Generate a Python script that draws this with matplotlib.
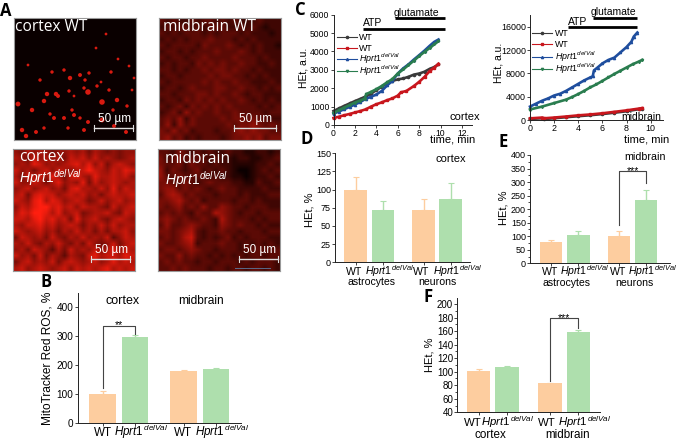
import matplotlib
matplotlib.use('Agg')
import matplotlib.pyplot as plt
import numpy as np
from matplotlib.colors import LinearSegmentedColormap
from matplotlib.lines import Line2D

plt.rcParams['font.family'] = ['Liberation Sans', 'DejaVu Sans']
plt.rcParams['mathtext.fontset'] = 'custom'
plt.rcParams['mathtext.rm'] = 'Liberation Sans'
plt.rcParams['mathtext.it'] = 'Liberation Sans:italic'
plt.rcParams['mathtext.bf'] = 'Liberation Sans:bold'

W, H = 677, 443
ORANGE = '#fdcd9f'
GREEN = '#aedfad'
HPRT = r'$\mathit{Hprt1}^{\mathit{delVal}}$'
HPRT_BAR = r'$\mathit{Hprt}$1$^{\,\mathit{delVal}}$'

# panel C, cortex
c1_wt1_t = [0, 0.5, 1, 1.5, 2, 2.5, 3, 3.5, 4, 4.5, 5, 5.5, 6, 6.5, 7, 7.5, 8, 8.5, 9, 9.4, 9.8]
c1_wt1 = [760, 900, 1040, 1170, 1300, 1420, 1550, 1700, 1900, 2080, 2270, 2400, 2480, 2530, 2620, 2740, 2800, 2900, 3060, 3150, 3300]
c1_wt2_t = [0, 0.5, 1, 1.5, 2, 2.5, 3, 3.5, 4, 4.5, 5, 5.5, 6, 6.3, 6.8, 7.5, 8, 8.5, 9, 9.4, 9.8]
c1_wt2 = [380, 450, 530, 600, 680, 760, 850, 1000, 1130, 1230, 1350, 1450, 1600, 1780, 1850, 2120, 2350, 2620, 2950, 3120, 3330]
c1_ko1_t = [0, 0.5, 1, 1.5, 2, 2.5, 3, 3.5, 4, 4.5, 5, 5.5, 6, 6.5, 7, 7.5, 8, 8.5, 9, 9.4, 9.8]
c1_ko1 = [620, 730, 860, 980, 1110, 1250, 1420, 1530, 1660, 1850, 2150, 2400, 2800, 3080, 3300, 3560, 3800, 4050, 4320, 4520, 4650]
c1_ko2_t = [0, 0.5, 1, 1.5, 2, 2.5, 2.9, 3.05, 3.5, 4, 4.5, 5, 5.5, 6, 6.5, 7, 7.5, 8, 8.5, 9, 9.4, 9.8]
c1_ko2 = [650, 800, 950, 1080, 1220, 1330, 1430, 1680, 1800, 1950, 2120, 2320, 2500, 2800, 3020, 3260, 3500, 3750, 3980, 4200, 4380, 4560]

# panel C, midbrain
c2_wt1_t = [0, 1, 1.2, 2, 3, 4, 5, 6, 7, 8, 9, 9.3]
c2_wt1 = [180, 300, 180, 300, 480, 650, 820, 1020, 1250, 1500, 1850, 1950]
c2_wt2_t = [0, 1, 1.2, 2, 3, 4, 5, 6, 7, 8, 9, 9.3]
c2_wt2 = [280, 420, 300, 420, 600, 800, 950, 1150, 1400, 1650, 1950, 2050]
c2_ko1_t = [0, 0.5, 1, 1.5, 2, 2.5, 3, 3.5, 4, 4.5, 5, 5.2, 5.3, 5.6, 6, 6.5, 7, 7.5, 8, 8.4, 8.6, 8.9]
c2_ko1 = [2300, 2800, 3300, 3700, 4200, 4500, 5000, 5600, 6200, 6800, 7300, 7500, 8500, 9000, 9700, 10300, 10700, 11600, 12500, 13400, 14300, 15000]
c2_ko2_t = [0, 1, 2, 3, 3.5, 4, 4.5, 5, 5.5, 6, 6.5, 7, 7.5, 8, 8.5, 9, 9.3]
c2_ko2 = [1800, 2300, 2900, 3500, 3950, 4450, 5000, 5600, 6100, 6700, 7300, 7900, 8450, 9000, 9550, 10000, 10300]

# bar panels: means, upper error ends
b_means = [101, 298, 181, 187]
b_tops = [110, 303, 183, 189]
d_means = [100, 72, 72.5, 87]
d_tops = [118, 84, 87, 109]
e_means = [78, 103, 102, 232]
e_tops = [85, 118, 121, 272]
f_means = [101, 107, 83, 159]
f_tops = [104, 108, 84, 161]

midbrain_wt = ["32322323323232223222", "23233232333223232122", "32323332323332322212",
               "23232333433323232222", "32333324333432323221", "23323233343334323222",
               "32332334333343332322", "23233243434334332232", "33232334344343323222",
               "23323333434433232322", "32333334343343322232", "23323433344334332323",
               "33233344343343233222", "23324343434334323232", "32342434343433332323",
               "23425343343343333233", "34352433334344343322", "35253433333434454343",
               "43534233323345454433", "45342323332344545344"]
cortex_ko = ["54656545565646545455", "65475656476757565456", "56587565678685746765",
             "75646757656797657687", "64767586478658667675", "75576468565847567656",
             "56756756478665758576", "67478775676756467667", "76589687567645756756",
             "57689978675766547567", "68799868567456675476", "77689786748567546765",
             "65778675676465757566", "76567564657564646675", "47656475465756573576",
             "65754657546475457467", "56476536475657568576", "75647465365478677687",
             "46756574676567568676", "67567656757676786767"]
midbrain_ko = ["33243232322322112212", "42343333232212211223", "43342433232211112232",
               "52432342323210012323", "53343333232211012232", "44334323433322113223",
               "45534343234332222322", "35653433323332322233", "44564342333323323222",
               "43453435335433233322", "34343243365432332333", "45434334326433323233",
               "35334543325434332322", "44345632334332333233", "34346732323423233322",
               "43345623334332323232", "34434543323332333333", "43353433232323233233",
               "34343323323332323332", "33434333233233233232"]
# bright spots in the cortex WT field (x, y, size), image pixels
spots_x = [14, 38, 50, 56, 66, 75, 71, 83, 87, 97, 104, 115, 26, 33, 42, 44, 55, 60, 70, 74, 95, 103, 113, 120,
           4, 18, 30, 36, 50, 60, 66, 74, 88, 99, 8, 12, 22, 40, 54, 70, 88, 100, 112, 30, 58, 82, 92, 118]
spots_y = [47, 54, 52, 60, 57, 55, 62, 68, 64, 54, 41, 48, 62, 76, 76, 78, 73, 78, 70, 74, 72, 82, 88, 60,
           86, 92, 83, 96, 100, 97, 100, 104, 84, 92, 112, 118, 114, 100, 110, 112, 102, 108, 114, 110, 92, 30, 16, 72]
spots_s = [4, 6, 6, 10, 8, 6, 6, 6, 4, 6, 4, 4, 6, 10, 10, 8, 6, 4, 6, 16, 6, 10, 6, 4,
           12, 10, 10, 6, 8, 8, 6, 8, 16, 6, 10, 10, 8, 8, 6, 8, 12, 8, 8, 6, 6, 4, 4, 4]

fig = plt.figure(figsize=(W / 100, H / 100), dpi=100)


def px_axes(left, top, right, bottom):
    return fig.add_axes([left / W, 1 - bottom / H, (right - left) / W, (bottom - top) / H])


def fig_text(x, y, s, **kw):
    return fig.text(x / W, 1 - y / H, s, **kw)


def style_axes(ax):
    for side in ['top', 'right']:
        ax.spines[side].set_visible(False)
    for side in ['left', 'bottom']:
        ax.spines[side].set_linewidth(0.7)
        ax.spines[side].set_color('#222222')
    ax.tick_params(length=2, width=0.6, labelsize=6, pad=1, color='#222222')


red_map = LinearSegmentedColormap.from_list('mito', [(0.04, 0, 0), (1, 0.12, 0.06)])


def micrograph(left, top, grid, title, title_x, title_y, ko_y, bar, label_y=101):
    ax = px_axes(left, top, left + 122, top + 122)
    if grid is None:
        ax.imshow(np.zeros((2, 2)), cmap=red_map, vmin=0, vmax=9, extent=(0, 122, 122, 0))
        ax.scatter(spots_x, spots_y, s=spots_s, color='#d81a10', linewidths=0)
    else:
        arr = np.array([[int(c) for c in row] for row in grid])
        ax.imshow(arr, cmap=red_map, vmin=0, vmax=9, interpolation='bilinear', extent=(0, 122, 122, 0))
    ax.set_xlim(0, 122)
    ax.set_ylim(122, 0)
    ax.set_xticks([])
    ax.set_yticks([])
    for s in ax.spines.values():
        s.set_color('#999999')
        s.set_linewidth(0.8)
    ax.text(title_x, title_y, title, color='white', fontsize=11.2, family='Open Sans', va='center')
    if ko_y:
        ax.text(title_x, ko_y, HPRT, color='white', fontsize=10, va='center')
    ax.plot(bar, [110, 110], color='#dddddd', lw=1, clip_on=False)
    ax.plot([bar[0], bar[0]], [107, 113], color='#dddddd', lw=0.8)
    ax.plot([bar[1], bar[1]], [107, 113], color='#dddddd', lw=0.8)
    ax.text(sum(bar) / 2 + 1, label_y, '50 µm', color='white', fontsize=8.5, ha='center', va='center')
    return ax


micrograph(14, 18, None, 'cortex WT', 1, 8.7, None, (80, 119))
micrograph(159, 18, midbrain_wt, 'midbrain WT', 4, 8.7, None, (75, 117))
micrograph(13, 149, cortex_ko, 'cortex', 6, 7.7, 29, (78, 117), label_y=101)
ax_mk = micrograph(158, 149, midbrain_ko, 'midbrain', 7, 10, 31, (81, 120), label_y=101)
ax_mk.plot([77, 112], [118.5, 118.5], color='#5a6a8a', lw=0.7)


def bar_panel(box, xlim, ylim, yticks, means, tops, shifts, tick_size, lab_size, baseline, minor=None, width=0.83):
    ax = px_axes(*box)
    style_axes(ax)
    xpos = [0, 1, 2.5, 3.5]
    cols = [ORANGE, GREEN, ORANGE, GREEN]
    ax.bar(xpos, means, width=width, color=cols, bottom=0)
    for x, m, t, c in zip(xpos, means, tops, cols):
        ax.errorbar(x, m, yerr=[[0], [t - m]], color=c, capsize=2, lw=1, capthick=0.8)
    ax.set_xlim(*xlim)
    ax.set_ylim(*ylim)
    ax.set_yticks(yticks)
    ax.tick_params(axis='y', labelsize=tick_size)
    if minor is not None:
        ax.set_yticks(minor, minor=True)
        ax.tick_params(axis='y', which='minor', length=1.2, width=0.5)
    ax.set_xticks(xpos)
    ax.set_xticklabels([])
    # labels sit on one baseline, the superscript would shift a plain tick label
    for x, lab, dx in zip(xpos, ['WT', HPRT_BAR, 'WT', HPRT_BAR], shifts):
        ax.annotate(lab, xy=(x, 0), xycoords=('data', 'axes fraction'), xytext=(dx, -baseline),
                    textcoords='offset pixels', fontsize=lab_size, ha='center', va='baseline',
                    annotation_clip=False)
    return ax


def bracket(ax, x0, x1, y_left, y_top, y_right, stars):
    ax.plot([x0, x0, x1, x1], [y_left, y_top, y_top, y_right], color='#444444', lw=0.8, clip_on=False)
    ax.annotate(stars, xy=((x0 + x1) / 2, y_top), xytext=(0, -2.5), textcoords='offset pixels',
                fontsize=7.5, ha='center', va='baseline', annotation_clip=False)


# B
ax_b = bar_panel((77.7, 293.3, 240.7, 423.3), (-0.774, 4.27), (0, 448), [0, 100, 200, 300, 400], b_means, b_tops,
                 [0, 6.5, 0, 6.5], 7.2, 8.4, 13, width=0.82)
bracket(ax_b, 0, 1, 122, 337, 307, '**')
fig_text(47.7, 358, 'MitoTracker Red ROS, %', rotation=90, fontsize=8.6, ha='center', va='center')
fig_text(123, 300.7, 'cortex', fontsize=9, ha='center', va='center')
fig_text(201, 300.7, 'midbrain', fontsize=8.6, ha='center', va='center')

# D
ax_d = bar_panel((335, 153.3, 470, 262.3), (-0.764, 4.21), (0, 150), [0, 25, 50, 75, 100, 125, 150], d_means, d_tops,
                 [-2, 6.5, -2, 6.5], 6.5, 7.6, 12.7)
fig_text(309, 210, 'HEt, %', rotation=90, fontsize=8, ha='center', va='center')
fig_text(371.3, 282, 'astrocytes', fontsize=7.6, ha='center', va='center')
fig_text(437.7, 282, 'neurons', fontsize=7.6, ha='center', va='center')
fig_text(451, 159, 'cortex', fontsize=8, ha='center', va='center')

# E
ax_e = bar_panel((530, 155, 670, 263.3), (-0.78, 4.38), (0, 400), np.arange(0, 401, 50), e_means, e_tops,
                 [-1, 6.5, -1, 6.5], 6.5, 7.6, 11.7, minor=np.arange(0, 401, 25))
bracket(ax_e, 2.5, 3.5, 141, 340, 295, '***')
fig_text(504, 208, 'HEt, %', rotation=90, fontsize=8, ha='center', va='center')
fig_text(566.7, 282.7, 'astrocytes', fontsize=7.6, ha='center', va='center')
fig_text(634, 282.7, 'neurons', fontsize=7.6, ha='center', va='center')
fig_text(624, 157, 'midbrain', fontsize=7.7, ha='left', va='center')

# F
ax_f = bar_panel((457.3, 297.7, 600, 412.3), (-0.75, 4.26), (40, 209.5), np.arange(40, 201, 20), f_means, f_tops,
                 [-6, 0.5, -3, 6], 7, 8.2, 13.4, minor=np.arange(40, 201, 10))
bracket(ax_f, 2.5, 3.5, 87, 179, 165, '***')
fig_text(429, 355, 'HEt, %', rotation=90, fontsize=8, ha='center', va='center')
fig_text(490, 435.5, 'cortex', fontsize=8.4, ha='center', va='center')
fig_text(568, 435.5, 'midbrain', fontsize=8.4, ha='center', va='center')


TRACE_COLS = ['#3a3a3a', '#c8161d', '#1f4e9e', '#2a7d4f']
TRACE_MARKS = ['o', 's', '^', 'v']
TRACE_LABELS = ['WT', 'WT', HPRT, HPRT]


def trace_panel(box, xlim, ylim, xticks, yticks, traces, tick_size):
    ax = px_axes(*box)
    style_axes(ax)
    ax.tick_params(labelsize=tick_size)
    for (tx, ty), c, mk in zip(traces, TRACE_COLS, TRACE_MARKS):
        ax.plot(tx, ty, color=c, lw=1.9, marker=mk, ms=1.6, solid_joinstyle='round', clip_on=False)
    ax.set_xlim(*xlim)
    ax.set_ylim(*ylim)
    ax.set_xticks(xticks)
    ax.set_yticks(yticks)
    return ax


def legend_rows(x0, x1, text_x, rows):
    # the superscript makes a legend's rows uneven, so the key is placed by row
    for y, c, mk, lab in zip(rows, TRACE_COLS, TRACE_MARKS, TRACE_LABELS):
        fig.add_artist(Line2D([x0 / W, (x0 + x1) / 2 / W, x1 / W], [1 - y / H] * 3, color=c, lw=0.8,
                              marker=mk, ms=1.6, markevery=[1]))
        fig_text(text_x, y + 3, lab, fontsize=6.4, va='baseline')


ax_c1 = trace_panel((333.5, 14.7, 471.7, 125), (0, 12.9), (0, 6000), [0, 2, 4, 6, 8, 10, 12],
                    [0, 1000, 2000, 3000, 4000, 5000, 6000],
                    [(c1_wt1_t, c1_wt1), (c1_wt2_t, c1_wt2), (c1_ko1_t, c1_ko1), (c1_ko2_t, c1_ko2)], 6.2)
legend_rows(336.7, 356.7, 359, [36.7, 47.7, 59.3, 70.7])
ax_c1.plot([2.76, 10.43], [5222, 5222], color='black', lw=2, solid_capstyle='butt', clip_on=False)
ax_c1.plot([5.7, 10.43], [5837, 5837], color='black', lw=2, solid_capstyle='butt', clip_on=False)
fig_text(363, 26, 'ATP', fontsize=7.5, va='baseline')
fig_text(394, 15.5, 'glutamate', fontsize=7.5, va='baseline')
fig_text(304, 68, 'HEt, a.u.', rotation=90, fontsize=7.5, ha='center', va='center')
fig_text(449, 116.5, 'cortex', fontsize=8, va='center')
fig_text(430, 140, 'time, min', fontsize=8, va='center')

ax_c2 = trace_panel((530, 15, 662.7, 120), (0, 11), (0, 18000), [0, 2, 4, 6, 8, 10], [0, 4000, 8000, 12000, 16000],
                    [(c2_wt1_t, c2_wt1), (c2_wt2_t, c2_wt2), (c2_ko1_t, c2_ko1), (c2_ko2_t, c2_ko2)], 6.4)
legend_rows(532.3, 551.7, 555, [33.3, 44.3, 57.3, 69])
ax_c2.plot([3.17, 8.9], [16000, 16000], color='black', lw=2, solid_capstyle='butt', clip_on=False)
ax_c2.plot([5.2, 8.9], [17550, 17550], color='black', lw=2, solid_capstyle='butt', clip_on=False)
fig_text(568, 25, 'ATP', fontsize=7.5, va='baseline')
fig_text(591, 15, 'glutamate', fontsize=7.5, va='baseline')
fig_text(498, 63, 'HEt, a.u.', rotation=90, fontsize=7.5, ha='center', va='center')
fig_text(621, 117, 'midbrain', fontsize=7.5, va='center')
fig_text(624, 139, 'time, min', fontsize=8, va='center')

# panel letters
for letter, x, y in [('A', 0, 16), ('B', 41, 287), ('C', 295, 15), ('D', 300.5, 144), ('E', 498, 147), ('F', 424, 302)]:
    fig_text(x, y, letter, fontsize=12, fontweight='bold', family='Open Sans', va='baseline')

fig.savefig('out.png', dpi=100)
